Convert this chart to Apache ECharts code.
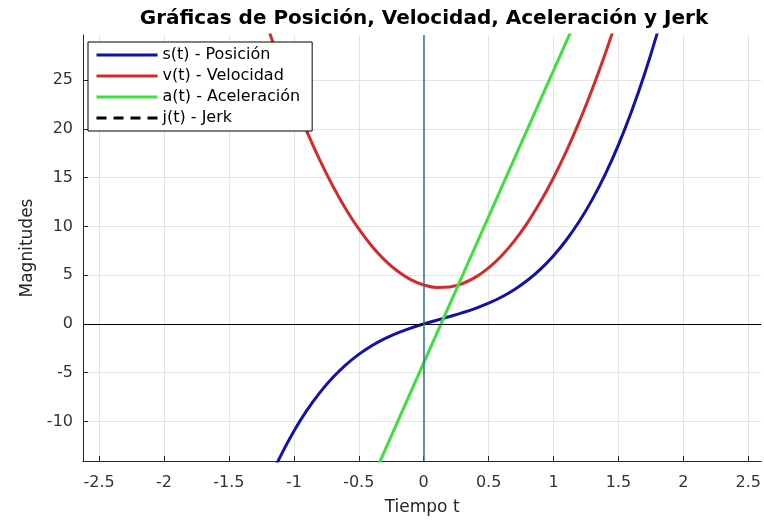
<!DOCTYPE html>
<html>
<head>
<meta charset="utf-8">
<script src="https://cdn.jsdelivr.net/npm/echarts@6/dist/echarts.min.js"></script>
<style>
  html, body { margin: 0; padding: 0; background: #fff; }
  #chart_kinematics { width: 764px; height: 521px; }
</style>
</head>
<body>
<div id="chart_kinematics"></div>
<script>
  // tiempos y valores
  const tPos = [-1.2, -1.1, -1.0, -0.9, -0.8, -0.7, -0.6, -0.5, -0.4, -0.3, -0.2, -0.1, 0,
    0.1, 0.2, 0.3, 0.4, 0.5, 0.6, 0.7, 0.8, 0.9, 1.0, 1.1, 1.2, 1.3, 1.4, 1.5, 1.6, 1.7, 1.8, 1.9];
  const posicion = [-16.32, -13.475, -11, -8.865, -7.04, -5.495, -4.2, -3.125, -2.24, -1.515, -0.92, -0.425, 0,
    0.385, 0.76, 1.155, 1.6, 2.125, 2.76, 3.535, 4.48, 5.625, 7, 8.635, 10.56, 12.805, 15.4, 18.375, 21.76, 25.585, 29.88, 34.675];

  const tVel = [-1.3, -1.2, -1.1, -1.0, -0.9, -0.8, -0.7, -0.6, -0.5, -0.4, -0.3, -0.2, -0.1, 0,
    0.1, 0.2, 0.3, 0.4, 0.5, 0.6, 0.7, 0.8, 0.9, 1.0, 1.1, 1.2, 1.3, 1.4, 1.5];
  const velocidad = [34.55, 30.4, 26.55, 23, 19.75, 16.8, 14.15, 11.8, 9.75, 8, 6.55, 5.4, 4.55, 4,
    3.75, 3.8, 4.15, 4.8, 5.75, 7, 8.55, 10.4, 12.55, 15, 17.75, 20.8, 24.15, 27.8, 31.75];

  const tAcel = [-0.4, 0, 0.4, 0.8, 1.2];
  const aceleracion = [-16, -4, 8, 20, 32];

  const tJerk = [-2.7, 2.7];
  const jerk = [30, 30];

  const xTicks = [-2.5, -2, -1.5, -1, -0.5, 0, 0.5, 1, 1.5, 2, 2.5];
  const yTicks = [-10, -5, 0, 5, 10, 15, 20, 25];

  const pairs = (xs, ys) => xs.map((x, i) => [x, ys[i]]);

  const FONT = 'DejaVu Sans';

  let myChart = echarts.init(document.getElementById('chart_kinematics'));
  myChart.setOption({
    animation: false,
    backgroundColor: '#fff',
    title: {
      text: 'Gráficas de Posición, Velocidad, Aceleración y Jerk',
      left: 419,
      top: 0,
      textAlign: 'center',
      padding: [9, 5, 5, 5],
      textStyle: { fontFamily: FONT, fontWeight: 'bold', fontSize: 20, color: '#000' }
    },
    legend: {
      orient: 'vertical',
      left: 88,
      top: 42,
      padding: [5, 12, 5, 7],
      itemWidth: 61,
      itemHeight: 14,
      itemGap: 5,
      backgroundColor: '#fff',
      borderColor: '#000',
      borderWidth: 1,
      borderRadius: 0,
      itemStyle: { opacity: 0 },
      lineStyle: { width: 3 },
      textStyle: { fontFamily: FONT, fontSize: 16, color: '#000' },
      data: ['s(t) - Posición', 'v(t) - Velocidad', 'a(t) - Aceleración', 'j(t) - Jerk']
    },
    grid: {
      left: 83,
      right: 0,
      top: 35,
      bottom: 54
    },
    xAxis: {
      type: 'value',
      min: -2.624,
      max: 2.6,
      splitNumber: 10,
      name: 'Tiempo t',
      nameLocation: 'middle',
      nameGap: 38,
      nameTextStyle: { fontFamily: FONT, fontSize: 17, color: '#262626' },
      axisLine: { onZero: false, lineStyle: { color: '#262626', width: 1 } },
      axisTick: { inside: true, length: 5, lineStyle: { color: '#262626' } },
      axisLabel: {
        fontFamily: FONT, fontSize: 16, color: '#333', margin: 14,
        showMinLabel: false, showMaxLabel: false,
        formatter: v => xTicks.includes(v) ? String(v) : ''
      },
      splitLine: { show: true, showMinLine: false, showMaxLine: false, lineStyle: { color: '#e4e4e4', width: 1 } }
    },
    yAxis: {
      type: 'value',
      min: -14.06,
      max: 29.64,
      splitNumber: 9,
      name: 'Magnitudes',
      nameLocation: 'middle',
      nameGap: 44,
      nameTextStyle: { fontFamily: FONT, fontSize: 17, color: '#262626' },
      axisLine: { show: true, onZero: false, lineStyle: { color: '#262626', width: 1 } },
      axisTick: { show: true, inside: true, length: 5, lineStyle: { color: '#262626' } },
      axisLabel: {
        fontFamily: FONT, fontSize: 16, color: '#333', margin: 10,
        showMinLabel: false, showMaxLabel: false,
        formatter: v => yTicks.includes(v) ? String(v) : ''
      },
      splitLine: { show: true, showMinLine: false, showMaxLine: false, lineStyle: { color: '#e4e4e4', width: 1 } }
    },
    series: [
      {
        name: 's(t) - Posición',
        type: 'line',
        color: '#1212a6',
        data: pairs(tPos, posicion),
        smooth: 0.4,
        symbol: 'none',
        lineStyle: { width: 3 },
        markLine: {
          silent: true,
          symbol: 'none',
          label: { show: false },
          data: [
            { yAxis: 0, lineStyle: { color: '#000', width: 1, type: 'solid' } },
            { xAxis: 0, lineStyle: { color: '#2f6f9f', width: 1.5, type: 'solid' } }
          ]
        }
      },
      {
        name: 'v(t) - Velocidad',
        type: 'line',
        color: '#d42a2a',
        data: pairs(tVel, velocidad),
        smooth: 0.4,
        symbol: 'none',
        lineStyle: { width: 3 }
      },
      {
        name: 'a(t) - Aceleración',
        type: 'line',
        color: '#3ee03e',
        data: pairs(tAcel, aceleracion),
        symbol: 'none',
        lineStyle: { width: 3 }
      },
      {
        name: 'j(t) - Jerk',
        type: 'line',
        color: '#000',
        data: pairs(tJerk, jerk),
        symbol: 'none',
        lineStyle: { width: 3, type: [10, 7] }
      }
    ]
  });
</script>
</body>
</html>
